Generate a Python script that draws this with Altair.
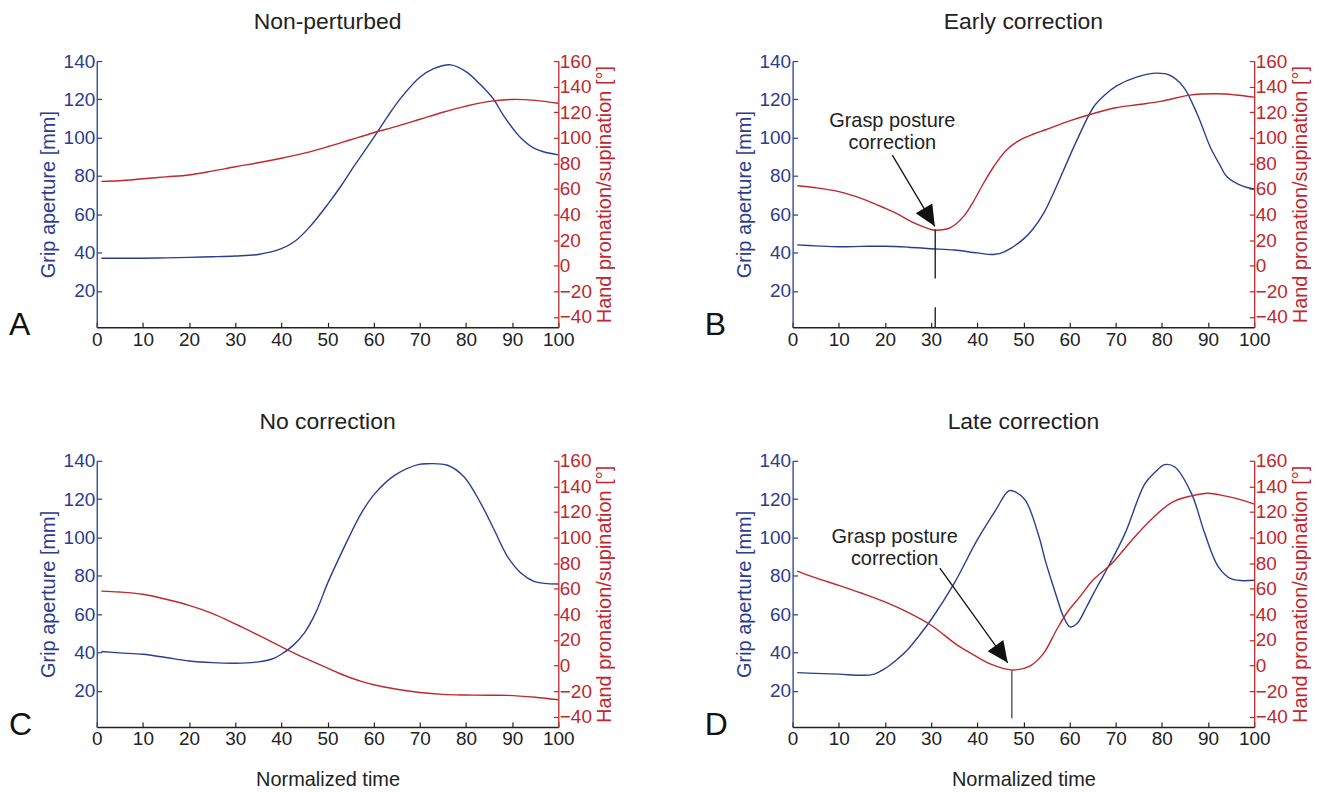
import math
import altair as alt
import pandas as pd

FONT = "Liberation Sans"
BLUE = "#2B3D8F"
RED = "#C1272D"
DARK = "#222222"
W, H = 463, 267

GRIP_DOMAIN = [1, 140]
ROT_DOMAIN = [-48, 160]
X_TICKS = list(range(0, 101, 10))
GRIP_TICKS = list(range(20, 141, 20))
ROT_TICKS = list(range(-40, 161, 20))

# ---------------- data ----------------
A_grip_t = [1, 5, 10, 15, 20, 25, 30, 35, 40, 43, 46, 50, 53, 56, 60, 63, 66, 70, 73, 76.7, 80, 83, 86, 88, 90.4, 92, 94.7, 97, 100]
A_grip_v = [37, 37, 37, 37.2, 37.5, 37.8, 38.2, 39, 42, 46, 53, 65, 75, 86, 100, 111, 121, 131.5, 136, 138, 134.5, 128, 120, 112, 104, 99.5, 94.5, 92.5, 91]
A_rot_t = [1, 5, 10, 15, 20, 25, 30, 35, 40, 45, 50, 55, 60, 65, 70, 75, 80, 85, 90, 95, 100]
A_rot_v = [66, 66.5, 68, 69.5, 71, 74, 77.4, 80.5, 84, 88, 93, 98.5, 104, 109, 114.5, 120, 124.8, 128.5, 130, 129.3, 127]

B_grip_t = [1, 5, 10, 15, 20, 25, 30, 35, 40, 43.5, 46, 50, 52, 54.4, 56.5, 58.7, 61.6, 65.2, 67.5, 70.2, 74.5, 78.9, 81.8, 84.7, 87.6, 90.5, 92.5, 94.1, 97.7, 100]
B_grip_v = [44, 43.5, 43, 43.2, 43.3, 42.8, 42, 41.3, 39.8, 39, 40.5, 47, 52, 60.6, 71, 83, 98.7, 116, 122, 127, 131.6, 133.7, 132.5, 126.4, 112.6, 95, 86, 79.6, 74.5, 73.2]
B_rot_t = [1, 5, 10, 15, 20, 22.7, 26.3, 29.9, 31, 34.2, 37.1, 39.2, 41.4, 43.6, 46.4, 49.3, 52.2, 55, 60, 65, 70, 75, 80, 86, 92, 96, 100]
B_rot_v = [62.5, 61, 58, 52.5, 45, 40.5, 33.5, 28.5, 27.8, 29.8, 38.8, 50.4, 64.7, 77.6, 90.6, 98.4, 103, 106.5, 113.2, 118.8, 123.5, 126, 128.7, 133.4, 134.4, 133.5, 131.8]

C_grip_t = [1, 5, 10, 15, 20, 25, 30, 35, 38, 40, 42.5, 45, 47.5, 50, 53, 57.3, 60.3, 64.6, 69.6, 71.7, 76, 79.6, 83.2, 86.1, 89, 91.9, 94.7, 97, 100]
C_grip_v = [40.4, 39.7, 39, 37.3, 35.5, 34.6, 34.3, 35, 36.5, 39, 43.5, 50.2, 61, 76, 91.8, 112.6, 123, 132.5, 138, 138.5, 137.7, 131.6, 117.8, 104, 90, 81.4, 77, 76, 75.7]
C_rot_t = [1, 5, 10, 15, 20, 25, 30, 35, 40, 45, 50, 52.5, 55, 57.5, 60, 65, 70, 75, 80, 85, 89, 95, 100]
C_rot_v = [58.2, 57.5, 55.7, 51.8, 47.1, 40.8, 32.6, 23.8, 14.7, 6, -2, -6, -9.5, -12.5, -15, -18.5, -21, -22.5, -23, -23.2, -23.3, -24.8, -26.7]

D_grip_t = [1, 5, 10, 15, 17.5, 20, 22.5, 25, 27.5, 30, 35, 40, 44, 46.8, 48, 50.4, 53.3, 54.7, 56, 57.2, 58.7, 60.1, 61.6, 63.7, 65.2, 66.5, 68.4, 72, 76.3, 78.5, 80.6, 82.8, 86.4, 89.3, 92.2, 95.1, 100]
D_grip_v = [29.4, 29, 28.6, 28, 28.5, 31.5, 36, 41.6, 49, 57, 76, 98.7, 114.3, 124.3, 124, 119.5, 101, 88.3, 78, 69, 58.5, 53.3, 55, 63.8, 70.8, 76.5, 84.8, 102, 128, 134, 138, 136.8, 123, 102, 84.8, 78.3, 77.6]
D_rot_t = [1, 5, 10, 15, 20, 25, 30, 35.6, 39.2, 42.8, 47.5, 51.5, 54.4, 57.2, 59.4, 62.3, 65.2, 69.1, 73.4, 77.8, 82.1, 86.4, 90, 93.6, 97, 100]
D_rot_v = [73.8, 68.5, 62.7, 56.5, 49.7, 41.5, 31.5, 16.2, 8.4, 1.3, -3.4, -0.2, 9.7, 28, 41.1, 54.1, 67.2, 79.5, 97.6, 114.5, 127.4, 132.6, 134.7, 132.6, 129.7, 126.1]

TITLES = ["Non-perturbed", "Early correction", "No correction", "Late correction"]
LETTERS = ["A", "B", "C", "D"]
ANNOT_TEXT = "Grasp posture\ncorrection"

# annotations (in grip-aperture units): text centre, arrow start, arrow tip, vertical marker
B_annot = {"text": (21.6, 108.5), "start": (21.6, 90.9), "tip": (30.8, 53.7),
           "marks": [(30.9, 52, 26.5), (30.9, 11.4, 1)], "mark_color": "#222222"}
D_annot = {"text": (22.1, 100), "start": (31.9, 84), "tip": (46.6, 34.6),
           "marks": [(47.5, 30.3, 5.6)], "mark_color": "#555555"}


def xs(axis):
    return alt.X("t:Q", scale=alt.Scale(domain=[0, 100], nice=False, zero=False), axis=axis)


def panel(title, letter, gt, gv, rt, rv, xtitle, annot=None):
    g = pd.DataFrame({"t": gt, "v": gv})
    r = pd.DataFrame({"t": rt, "v": rv})
    grip_scale = alt.Scale(domain=GRIP_DOMAIN, nice=False, zero=False)
    rot_scale = alt.Scale(domain=ROT_DOMAIN, nice=False, zero=False)

    x_axis = alt.Axis(values=X_TICKS, title=xtitle, grid=False, ticks=False, tickSize=0,
                      labelPadding=3, labelFlush=False, labelOverlap=False,
                      domainColor=DARK, domainWidth=1.3, labelColor=DARK, titleColor=DARK,
                      labelFont=FONT, labelFontSize=19, titleFont=FONT, titleFontSize=20,
                      titleFontWeight="normal", titlePadding=21)
    blue = alt.Chart(g).mark_line(color=BLUE, strokeWidth=1.4, interpolate="catmull-rom").encode(
        x=xs(x_axis),
        y=alt.Y("v:Q", scale=grip_scale, axis=alt.Axis(
            orient="left", values=GRIP_TICKS, title="Grip aperture [mm]", grid=False,
            ticks=False, tickSize=0, labelPadding=2, domainColor=BLUE, domainWidth=1.3,
            labelColor=BLUE, titleColor=BLUE, labelFont=FONT, labelFontSize=19,
            titleFont=FONT, titleFontSize=20, titleFontWeight="normal", titlePadding=5,
            labelOverlap=False)),
    )
    red = alt.Chart(r).mark_line(color=RED, strokeWidth=1.4, interpolate="catmull-rom").encode(
        x=xs(None),
        y=alt.Y("v:Q", scale=rot_scale, axis=alt.Axis(
            orient="right", values=ROT_TICKS, title="Hand pronation/supination [°]", grid=False,
            ticks=False, tickSize=0, labelPadding=1, domainColor=RED, domainWidth=1.3,
            labelColor=RED, titleColor=RED, labelFont=FONT, labelFontSize=19,
            titleFont=FONT, titleFontSize=20, titleFontWeight="normal", titlePadding=3,
            titleAngle=270, titleBaseline="top", labelOverlap=False)),
    )
    # inward tick marks (axes drawn on the opposite edge, pointing into the plot)
    gtick = alt.Chart(g).mark_line(opacity=0).encode(
        x=xs(alt.Axis(orient="top", offset=-H, values=X_TICKS, labels=False, domain=False,
                      ticks=True, tickSize=5, tickColor=DARK, tickWidth=1.2, grid=False, title=None)),
        y=alt.Y("v:Q", scale=grip_scale, axis=alt.Axis(
            orient="right", offset=-W, values=GRIP_TICKS, labels=False, domain=False, ticks=True,
            tickSize=5, tickColor=BLUE, tickWidth=1.2, grid=False, title=None)),
    )
    rtick = alt.Chart(r).mark_line(opacity=0).encode(
        x=xs(None),
        y=alt.Y("v:Q", scale=rot_scale, axis=alt.Axis(
            orient="left", offset=-W, values=ROT_TICKS, labels=False, domain=False, ticks=True,
            tickSize=5, tickColor=RED, tickWidth=1.2, grid=False, title=None)),
    )
    lab = alt.Chart(pd.DataFrame({"l": [letter]})).mark_text(
        font=FONT, fontSize=32, color="#111111", align="left", baseline="alphabetic"
    ).encode(text="l:N", x=alt.value(-88), y=alt.value(H + 8))

    layers = [blue, red, gtick, rtick, lab]

    if annot is not None:
        ann_scale = alt.Scale(domain=GRIP_DOMAIN, nice=False, zero=False)
        tx, ty = annot["text"]
        txt = alt.Chart(pd.DataFrame({"t": [tx], "v": [ty], "s": [ANNOT_TEXT]})).mark_text(
            font=FONT, fontSize=20, color=DARK, align="center", baseline="middle",
            lineBreak="\n", lineHeight=22
        ).encode(x=xs(None), y=alt.Y("v:Q", scale=ann_scale, axis=None), text="s:N")
        (sx, sy), (ex, ey) = annot["start"], annot["tip"]
        shaft = alt.Chart(pd.DataFrame({"t": [sx], "v": [sy], "t2": [ex], "v2": [ey]})).mark_rule(
            color="#111111", strokeWidth=1.3
        ).encode(x=xs(None), y=alt.Y("v:Q", scale=ann_scale, axis=None), x2="t2:Q", y2="v2:Q")
        dx = (ex - sx) * W / 100.0
        dy = -(ey - sy) * H / (GRIP_DOMAIN[1] - GRIP_DOMAIN[0])
        ang = 180 - math.degrees(math.atan2(dx, dy))
        head = alt.Chart(pd.DataFrame({"t": [ex], "v": [ey]})).mark_point(
            shape="M0,0L-0.46,1L0.46,1Z", size=1764, angle=ang, filled=True,
            color="#111111", opacity=1, strokeWidth=0
        ).encode(x=xs(None), y=alt.Y("v:Q", scale=ann_scale, axis=None))
        mk = pd.DataFrame({"t": [m[0] for m in annot["marks"]],
                           "v": [m[1] for m in annot["marks"]],
                           "v2": [m[2] for m in annot["marks"]]})
        marker = alt.Chart(mk).mark_rule(color=annot["mark_color"], strokeWidth=1.4).encode(
            x=xs(None), y=alt.Y("v:Q", scale=ann_scale, axis=None), y2="v2:Q")
        layers += [marker, shaft, head, txt]

    return alt.layer(*layers).resolve_scale(y="independent").resolve_axis(
        x="independent", y="independent"
    ).properties(
        width=W, height=H,
        title=alt.TitleParams(title, font=FONT, fontSize=23, fontWeight="normal",
                              color=DARK, anchor="middle", frame="group", offset=18),
    )


pA = panel(TITLES[0], LETTERS[0], A_grip_t, A_grip_v, A_rot_t, A_rot_v, None)
pB = panel(TITLES[1], LETTERS[1], B_grip_t, B_grip_v, B_rot_t, B_rot_v, None, B_annot)
pC = panel(TITLES[2], LETTERS[2], C_grip_t, C_grip_v, C_rot_t, C_rot_v, "Normalized time")
pD = panel(TITLES[3], LETTERS[3], D_grip_t, D_grip_v, D_rot_t, D_rot_v, "Normalized time", D_annot)

chart = alt.concat(
    pA, pB, pC, pD, columns=2,
    spacing=alt.RowColnumber(row=134, column=235), bounds="flush",
).properties(
    padding={"left": 1, "top": 2, "right": 5, "bottom": 5},
    background="white",
).configure_view(stroke=None)

chart.save("out.html", embed_options={"renderer": "svg", "actions": False})
